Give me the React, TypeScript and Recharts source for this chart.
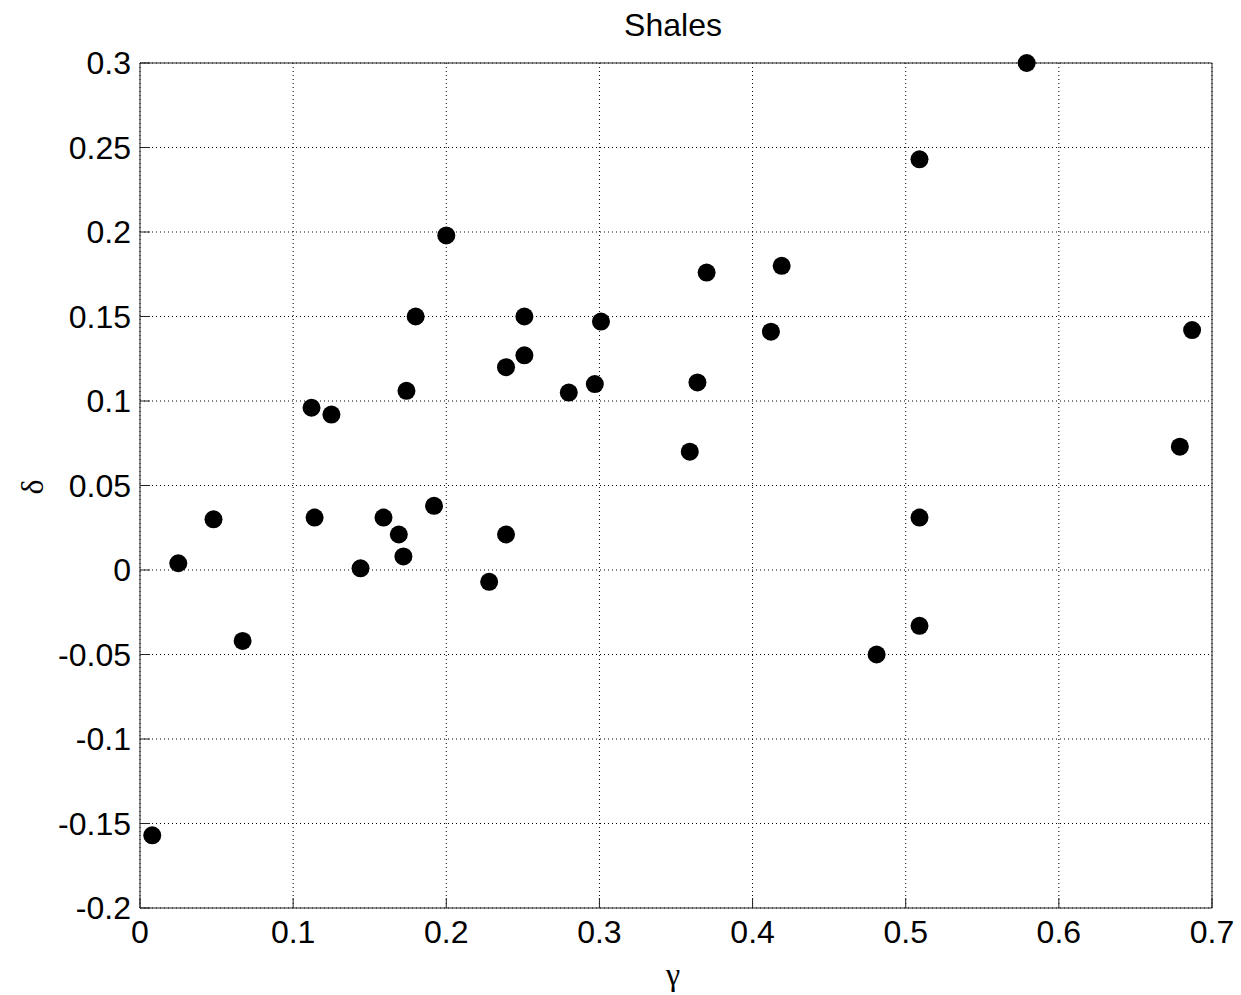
import { ScatterChart, Scatter, XAxis, YAxis, CartesianGrid } from 'recharts'

const gammaValues = [
  0.008, 0.025, 0.048, 0.067, 0.112, 0.114, 0.125, 0.144, 0.159, 0.169, 0.172, 0.174, 0.18, 0.192, 0.2, 0.228,
  0.239, 0.239, 0.251, 0.251, 0.28, 0.297, 0.301, 0.359, 0.364, 0.37, 0.412, 0.419, 0.481, 0.509, 0.509, 0.509,
  0.579, 0.679, 0.687,
]
const deltaValues = [
  -0.157, 0.004, 0.03, -0.042, 0.096, 0.031, 0.092, 0.001, 0.031, 0.021, 0.008, 0.106, 0.15, 0.038, 0.198, -0.007,
  0.12, 0.021, 0.15, 0.127, 0.105, 0.11, 0.147, 0.07, 0.111, 0.176, 0.141, 0.18, -0.05, 0.243, 0.031, -0.033,
  0.3, 0.073, 0.142,
]
const xTicks = [0, 0.1, 0.2, 0.3, 0.4, 0.5, 0.6, 0.7]
const yTicks = [-0.2, -0.15, -0.1, -0.05, 0, 0.05, 0.1, 0.15, 0.2, 0.25, 0.3]

const data = gammaValues.map((g, i) => ({ gamma: g, delta: deltaValues[i] }))

const tickFont = { fontFamily: 'Liberation Sans, Arial, sans-serif', fontSize: 32, fill: '#000' }
const frame = '#222'

const Dot = (props: any) => <circle cx={props.cx} cy={props.cy} r={9} fill='#000' />

export default function App() {
  return (
    <div style={{ position: 'absolute', left: 0, top: 0, width: 1241, height: 995, background: '#fff' }}>
      <ScatterChart width={1241} height={995} margin={{ top: 62, right: 28, left: 10, bottom: 27 }}>
        <CartesianGrid stroke='#000' strokeDasharray='1 3' />
        <XAxis
          type='number'
          dataKey='gamma'
          domain={[0, 0.7]}
          ticks={xTicks}
          height={60}
          stroke={frame}
          tickSize={-10}
          tickMargin={22}
          tick={tickFont}
        />
        <XAxis
          xAxisId='top'
          orientation='top'
          type='number'
          domain={[0, 0.7]}
          ticks={xTicks}
          allowDataOverflow
          height={1}
          stroke={frame}
          tickSize={-10}
          tick={false}
        />
        <YAxis
          type='number'
          dataKey='delta'
          domain={[-0.2, 0.3]}
          ticks={yTicks}
          width={130}
          stroke={frame}
          tickSize={-10}
          tickMargin={19}
          tick={tickFont}
        />
        <YAxis
          yAxisId='right'
          orientation='right'
          type='number'
          domain={[-0.2, 0.3]}
          ticks={yTicks}
          allowDataOverflow
          width={1}
          stroke={frame}
          tickSize={-10}
          tick={false}
        />
        <Scatter data={data} shape={Dot} isAnimationActive={false} />
      </ScatterChart>
      <div
        style={{
          position: 'absolute', left: 0, width: 1346, top: 6, textAlign: 'center',
          fontFamily: 'Liberation Sans, Arial, sans-serif', fontSize: 32, lineHeight: '38px', color: '#000',
        }}
      >
        Shales
      </div>
      <div
        style={{
          position: 'absolute', left: 0, width: 1346, top: 955, textAlign: 'center',
          fontFamily: 'Liberation Serif, serif', fontSize: 32, lineHeight: '38px', color: '#000',
        }}
      >
        γ
      </div>
      <div
        style={{
          position: 'absolute', left: 32, top: 487, transform: 'translate(-50%, -50%) rotate(-90deg)',
          fontFamily: 'Liberation Serif, serif', fontSize: 32, lineHeight: '38px', color: '#000',
        }}
      >
        δ
      </div>
    </div>
  )
}
